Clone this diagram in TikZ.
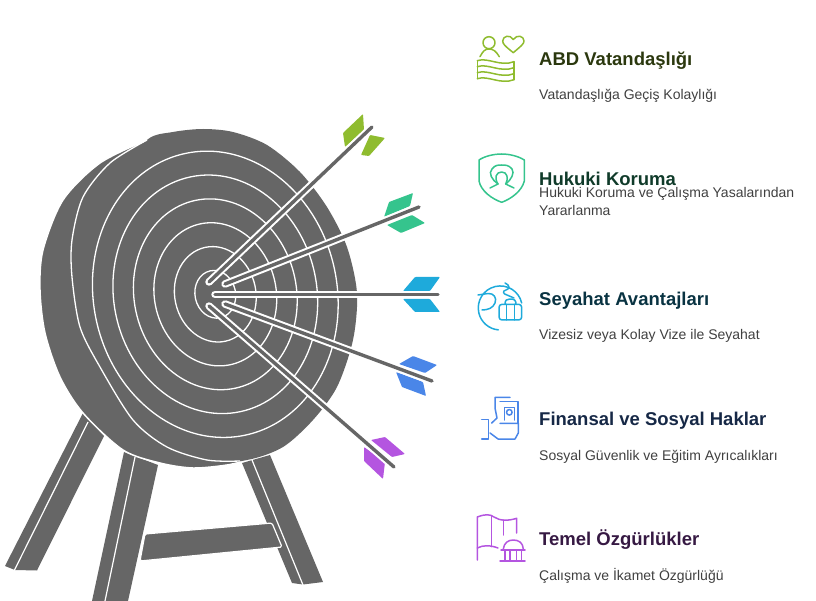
\documentclass[tikz,border=0pt]{standalone}
\usepackage{fontspec}
\setmainfont{Liberation Sans}
\definecolor{board}{HTML}{666666}
\definecolor{cgreen}{HTML}{8FBC2F}
\definecolor{cteal}{HTML}{35C48D}
\definecolor{ccyan}{HTML}{1EAADB}
\definecolor{cblue}{HTML}{4A86E8}
\definecolor{cpurple}{HTML}{B455E0}
\tikzset{
	head/.style={anchor=base west,inner sep=0pt,font=\fontsize{18.5}{20}\selectfont\bfseries},
	sub/.style={anchor=base west,inner sep=0pt,align=left,text=black!75,font=\fontsize{14}{18}\selectfont},
	ringline/.style={draw=white,line width=1.3pt},
	icon/.style={line width=1.5pt,line cap=round,line join=round}
}
\begin{document}
\begin{tikzpicture}[x=1pt,y=-1pt,line join=round]
	\useasboundingbox (0,0) rectangle (816,601);
	\path (209,282)coordinate(A1) (372,127)coordinate(B1)
	(225,284)coordinate(A2) (419,207)coordinate(B2)
	(215,294.5)coordinate(A3) (438,294.5)coordinate(B3)
	(225,304)coordinate(A4) (432,381)coordinate(B4)
	(209,306)coordinate(A5) (394,467)coordinate(B5);
	% legs
	\fill[board] (83,413)--(104,436)--(37,570.5)--(15,570)--(5,566)--cycle;
	\draw[white,line width=1.2pt] (88,422)--(14,571);
	\fill[board] (124,452)--(158,465)--(128,601)--(92,601)--cycle;
	\draw[white,line width=1.2pt] (135,457)--(105,601);
	\fill[board] (242,463)--(270,455)--(323,582)--(303,584.5)--(292,583)--cycle;
	\draw[white,line width=1.2pt] (252,460)--(303,585);
	\draw[fill=board,draw=white,line width=1.2pt,rounded corners=1.5pt] (145,534)--(272,523)--(282,547)--(140,561)--cycle;
	% target
	\draw[fill=board,draw=white,line width=1.5pt] plot[smooth] coordinates{(147,140) (100,163) (63,200) (43,250) (40,290) (45,333) (60,377) (83,413) (123,450) (160,463) (193,468) (227,465) (247,460)}--(300,300)--cycle;
	\fill[board] plot[smooth cycle] coordinates{(147,140) (173,132) (203,129) (233,132) (267,145) (300,172) (327,207) (347,247) (357,293) (353,340) (337,387) (313,420) (283,447) (247,460) (200,462) (150,420) (110,300) (120,180)};
	\draw[ringline] plot[smooth] coordinates{(147,140) (110,163) (83,197) (72,240) (72,277) (80,327) (100,367) (133,420) (167,447) (207,460) (240,461)};
	\foreach \k in {6,5,4,3,2,1}
	\draw[ringline] (215.3,294.3) ellipse [x radius=\k*20.3pt,y radius=\k*24pt,rotate=12];
	% feathers
	\fill[cgreen,rounded corners=.8pt] (363,114)--(364,130)--(345,147)--(343,133)--cycle (385,138)--(369,156)--(361,155)--(370,135)--cycle;
	\fill[cteal,rounded corners=.8pt] (413,193)--(410,206)--(384,217)--(389,202)--cycle (425,223)--(401,233)--(387,225)--(412,215)--cycle;
	\fill[ccyan,rounded corners=.8pt] (440,277)--(430,291)--(403,291)--(415,277)--cycle (403,299)--(430,299)--(440,312)--(415,312)--cycle;
	\fill[cblue,rounded corners=.8pt] (413,356)--(437,365)--(425,373)--(399,364)--cycle (396,372)--(423,382)--(426,396)--(402,387)--cycle;
	\fill[cpurple,rounded corners=.8pt] (371,440)--(385,437)--(405,454)--(392,457)--cycle (364,447)--(385,462)--(383,479)--(364,461)--cycle;
	% shafts
	\foreach \p in {1,2,3,4,5}{
		\draw[white,line width=7.5pt,line cap=round] (A\p)--(B\p);
		\draw[board,line width=3.4pt,line cap=round] (A\p)--(B\p);
	}
	% texts
	\node[head,text=black!70!cgreen] (t1) at (539,65.5) {ABD Vatandaşlığı};
	\node[sub] (s1) at (539,100) {Vatandaşlığa Geçiş Kolaylığı};
	\node[head,text=black!70!cteal] (t2) at (539,185.5) {Hukuki Koruma};
	\node[sub] (s2) at (539,216) {Hukuki Koruma ve Çalışma Yasalarından\\Yararlanma};
	\node[head,text=black!70!ccyan] (t3) at (539,305.5) {Seyahat Avantajları};
	\node[sub] (s3) at (539,340) {Vizesiz veya Kolay Vize ile Seyahat};
	\node[head,text=black!70!cblue] (t4) at (539,425.5) {Finansal ve Sosyal Haklar};
	\node[sub] (s4) at (539,460) {Sosyal Güvenlik ve Eğitim Ayrıcalıkları};
	\node[head,text=black!70!cpurple] (t5) at (539,545.5) {Temel Özgürlükler};
	\node[sub] (s5) at (539,580) {Çalışma ve İkamet Özgürlüğü};
	% icon 1
	\begin{scope}[icon,draw=cgreen]
		\draw (489,42.7) circle (6pt);
		\draw (480,56.7) .. controls (483,51) and (485,49) .. (489,49) .. controls (493,49) and (496,51) .. (499.3,56.7);
		\draw (513.3,52.7) .. controls (505,46) and (502.7,44) .. (502.7,41) .. controls (502.7,36) and (510,34) .. (513.3,39.5) .. controls (517,34) and (524,36) .. (524,41) .. controls (524,44) and (521,46) .. (513.3,52.7);
		\foreach \d in {0,6,12,18}
		\draw (477.3,60.7+\d) .. controls (488,57+\d) and (500,67+\d) .. (514,61.7+\d);
		\draw (477.3,60.7)--(477.3,78.7) (514,61.7)--(514,79.7);
	\end{scope}
	% icon 2
	\begin{scope}[icon,draw=cteal]
		\draw (501.7,154) .. controls (494,154) and (485,156) .. (479,160)--(479,181) .. controls (481,191) and (492,199) .. (501.7,202.3) .. controls (511,199) and (522,191) .. (524.3,181)--(524.3,160) .. controls (518,156) and (509,154) .. (501.7,154)--cycle;
		\draw (490,188)--(498,184) .. controls (492,180) and (488,173) .. (492,169) .. controls (495,165) and (498,165) .. (501.7,165) .. controls (505,165) and (509,165) .. (512,169) .. controls (515,173) and (511,180) .. (505.7,184)--(514,188);
		\draw (498,184) .. controls (494,178) and (496,172) .. (501.7,172) .. controls (507,172) and (509,178) .. (505.7,184);
	\end{scope}
	% icon 3
	\begin{scope}[icon,draw=ccyan]
		\draw (521.7,303) arc[start angle=13,end angle=265,radius=22pt];
		\draw (478,295)--(488,293.5) .. controls (494,293) and (497,298) .. (495,303) .. controls (493,308) and (488,310) .. (482,310);
		\draw (505,283) .. controls (510,285) and (510,289) .. (506,290) .. controls (502,291) and (503,294) .. (507,295)--(514,298);
		\draw[rounded corners=3pt] (499,304.3) rectangle (521.7,320);
		\draw (505,304) .. controls (505,300) and (507,299) .. (510,299) .. controls (514,299) and (516,300) .. (516,304);
		\draw (506.7,304.3)--(506.7,320) (514.3,304.3)--(514.3,320);
	\end{scope}
	% icon 4
	\begin{scope}[icon,draw=cblue]
		\draw (510,397.3)--(495,397.3)--(495,408)--(497,418)--(491.7,423);
		\draw (500,401.7)--(518,401.7)--(518,423);
		\draw (504.3,420)--(504.3,407.7)--(514.3,407.7)--(514.3,420);
		\draw (509.3,412.3) circle (2.8pt);
		\draw (481.7,419.3)--(488.3,419.3)--(488.3,439)--(481.7,439);
		\draw (500,423.3)--(518.3,423.3)--(518.3,433)--(515,439)--(498,439)--(490,433);
	\end{scope}
	% icon 5
	\begin{scope}[icon,draw=cpurple]
		\draw (477.3,560)--(477.3,517) .. controls (485,514) and (490,514) .. (494,517) .. controls (500,521) and (508,521) .. (516.7,518.3)--(516.7,533);
		\draw (503.3,520)--(503.3,535) (491.7,516)--(491.7,546.7);
		\draw (477.3,548) .. controls (483,545) and (490,545) .. (498,548);
		\draw (503.3,549) .. controls (504,543) and (508,540) .. (513.3,540) .. controls (519,540) and (523,543) .. (523.3,549);
		\draw (501,550)--(525,550) (500,561)--(525,561);
		\foreach \x in {505,510,516.7,521.7}
		\draw (\x,550)--(\x,561);
	\end{scope}
\end{tikzpicture}
\end{document}
